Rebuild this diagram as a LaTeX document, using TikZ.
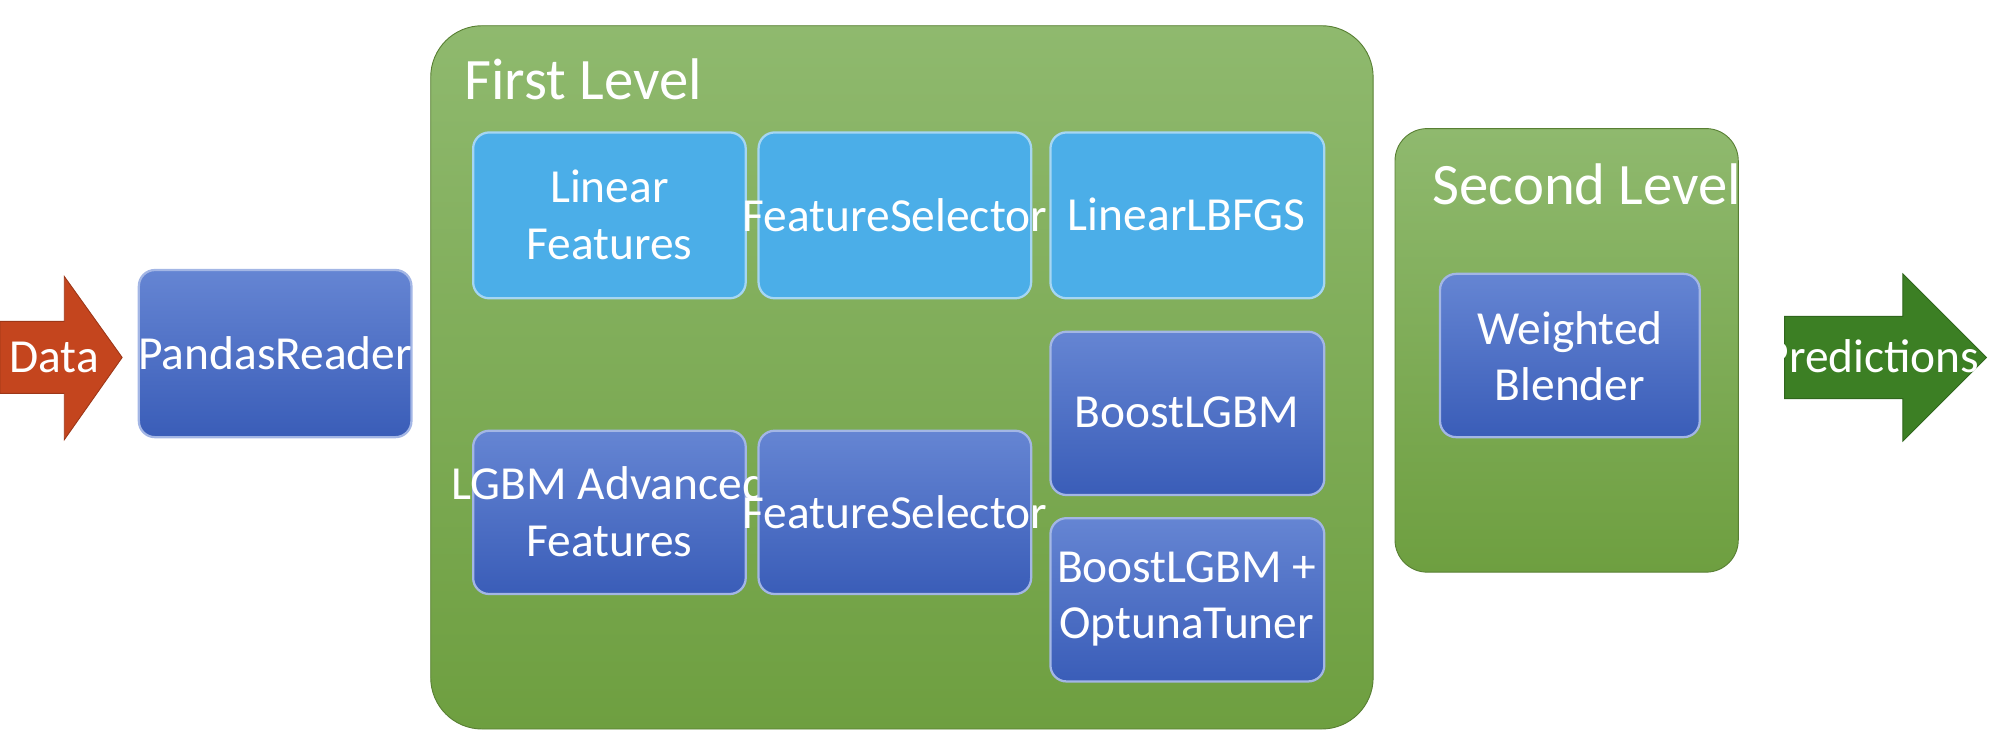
\documentclass[tikz,border=0pt]{standalone}
\usepackage{fontspec}
\setmainfont{Carlito}
\usetikzlibrary{shadings}
\definecolor{grn}{HTML}{7AAD4C}
\definecolor{grnT}{HTML}{8FB96E}
\definecolor{grnB}{HTML}{6E9F40}
\definecolor{dbT}{HTML}{6585D3}
\definecolor{dbB}{HTML}{3A5DB8}
\definecolor{lb}{HTML}{4BAEE8}
\definecolor{red}{HTML}{C4451E}
\definecolor{dg}{HTML}{3C7F24}
\begin{document}
\begin{tikzpicture}[x=0.02cm,y=-0.02cm,
  panel/.style={draw=grnB!80!black,line width=0.4pt,rounded corners=0.8cm,top color=grnT,bottom color=grnB},
  dbox/.style={draw=dbT!60!white,line width=1pt,rounded corners=0.25cm,top color=dbT,bottom color=dbB,text=white,align=center,font=\fontsize{21}{25}\selectfont},
  lbox/.style={draw=lb!50!white,line width=1pt,rounded corners=0.25cm,fill=lb,text=white,align=center,font=\fontsize{21}{25}\selectfont},
  title/.style={text=white,anchor=west,font=\fontsize{26}{30}\selectfont},
  atext/.style={text=white,font=\fontsize{21}{25}\selectfont}]
\useasboundingbox (0,0) rectangle (1568,586);
% Data arrow
\fill[red, draw=red!80!black] (0,250) -- (50,250) -- (50,215) -- (95,278) -- (50,342) -- (50,306) -- (0,306) -- cycle;
\node[atext] (data) at (42,278) {Data};
% Pandas
\path[dbox] (108,210) rectangle (320,340);
\node[text=white,font=\fontsize{21}{25}\selectfont] (pandas) at (214,275) {PandasReader};
% First level panel
\path[panel] (335,20) rectangle (1068,567);
\node[title] (fl) at (355,62) {First Level};
% light blue
\path[lbox] (368,103) rectangle (580,232);
\node[text=white,align=center,font=\fontsize{21}{25}\selectfont] (lf) at (474,167) {Linear\\Features};
\path[lbox] (590,103) rectangle (802,232);
\node[text=white,font=\fontsize{21}{25}\selectfont] (fs1) at (696,167) {FeatureSelector};
\path[lbox] (817,103) rectangle (1030,232);
\node[text=white,font=\fontsize{21}{25}\selectfont] (lbfgs) at (923,167) {LinearLBFGS};
% dark boxes
\path[dbox] (368,335) rectangle (580,462);
\node[text=white,align=center,font=\fontsize{21}{25}\selectfont] (lgbmf) at (474,398) {LGBM Advanced\\Features};
\path[dbox] (590,335) rectangle (802,462);
\node[text=white,font=\fontsize{21}{25}\selectfont] (fs2) at (696,398) {FeatureSelector};
\path[dbox] (817,258) rectangle (1030,385);
\node[text=white,font=\fontsize{21}{25}\selectfont] (boost) at (923,321) {BoostLGBM};
\path[dbox] (817,403) rectangle (1030,530);
\node[text=white,align=center,font=\fontsize{21}{25}\selectfont] (opt) at (923,466) {BoostLGBM +\\OptunaTuner};
% Second level
\path[panel,rounded corners=0.5cm] (1085,100) rectangle (1352,445);
\node[title] (sl) at (1108,143) {Second Level};
\path[dbox] (1120,213) rectangle (1322,340);
\node[text=white,align=center,font=\fontsize{21}{25}\selectfont] (wb) at (1221,277) {Weighted\\Blender};
% Predictions arrow
\fill[dg, draw=dg!80!black] (1388,246) -- (1480,246) -- (1480,213) -- (1545,278) -- (1480,343) -- (1480,310) -- (1388,310) -- cycle;
\node[atext] (pred) at (1456,277) {Predictions};
\end{tikzpicture}
\end{document}
